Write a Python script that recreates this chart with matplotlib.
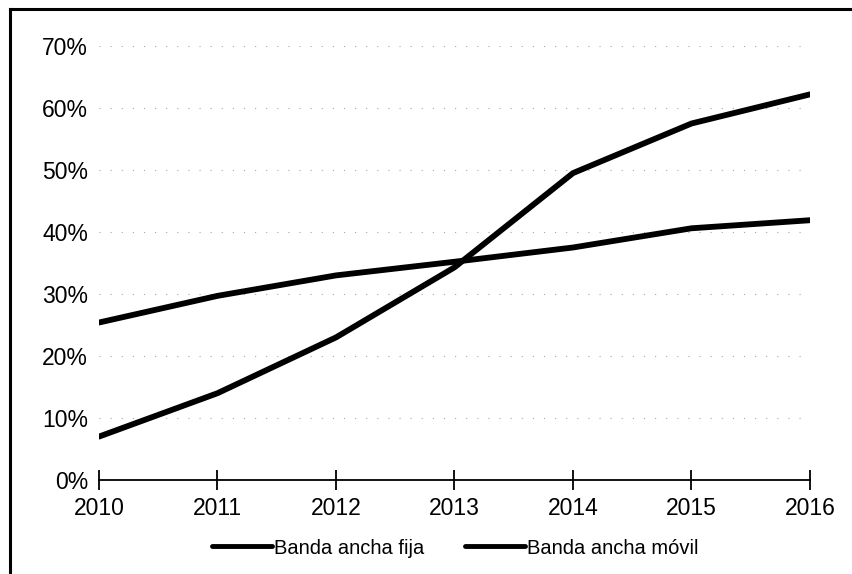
import matplotlib
matplotlib.use("Agg")
import matplotlib.pyplot as plt
from matplotlib.lines import Line2D
from matplotlib.ticker import FuncFormatter

years = [2010, 2011, 2012, 2013, 2014, 2015, 2016]
fija = [7.0, 14.0, 23.0, 34.3, 49.5, 57.5, 62.2]
movil = [25.4, 29.7, 33.0, 35.2, 37.5, 40.6, 41.9]
series_names = ["Banda ancha fija", "Banda ancha móvil"]
y_ticks = [0, 10, 20, 30, 40, 50, 60, 70]

plt.rcParams["font.family"] = ["Liberation Sans", "DejaVu Sans"]

W, H = 853, 574
fig = plt.figure(figsize=(W / 100, H / 100), dpi=100)
ax = fig.add_axes([99 / W, 1 - 480 / H, 711 / W, 434 / H])

ax.plot(years, fija, color="black", lw=4.2, solid_capstyle="round", label=series_names[0])
ax.plot(years, movil, color="black", lw=4.2, solid_capstyle="round", label=series_names[1])

ax.set_xlim(years[0], years[-1])
ax.set_ylim(0, 70)
ax.set_xticks(years)
ax.set_yticks(y_ticks)
ax.yaxis.set_major_formatter(FuncFormatter(lambda v, p: f"{int(v)}%"))

for v in y_ticks[1:]:
    ax.axhline(v, color="#a8a8a8", lw=0.8, linestyle=(0, (1, 9)), zorder=0)

for s in ["top", "right", "left"]:
    ax.spines[s].set_visible(False)
ax.spines["bottom"].set_linewidth(1.3)
ax.tick_params(axis="x", direction="inout", length=14, width=1.3, labelsize=16.5, pad=5)
ax.tick_params(axis="y", length=0, labelsize=16.5, pad=8)

fig.legend(handles=ax.get_lines(), labels=series_names, loc="center",
           bbox_to_anchor=(455 / W, 1 - 548 / H), ncol=2, frameon=False,
           fontsize=14.5, handlelength=3.0, handletextpad=0.1, columnspacing=2.0)
for h in fig.legends[0].legend_handles:
    h.set_linewidth(3.5)

# page frame on the left and top edges
fig.add_artist(Line2D([10 / W, 10 / W], [0, 1 - 9 / H], color="black", lw=2.2, transform=fig.transFigure))
fig.add_artist(Line2D([10 / W, 1], [1 - 9 / H, 1 - 9 / H], color="black", lw=2.2, transform=fig.transFigure))

fig.savefig("out.png", dpi=100)
